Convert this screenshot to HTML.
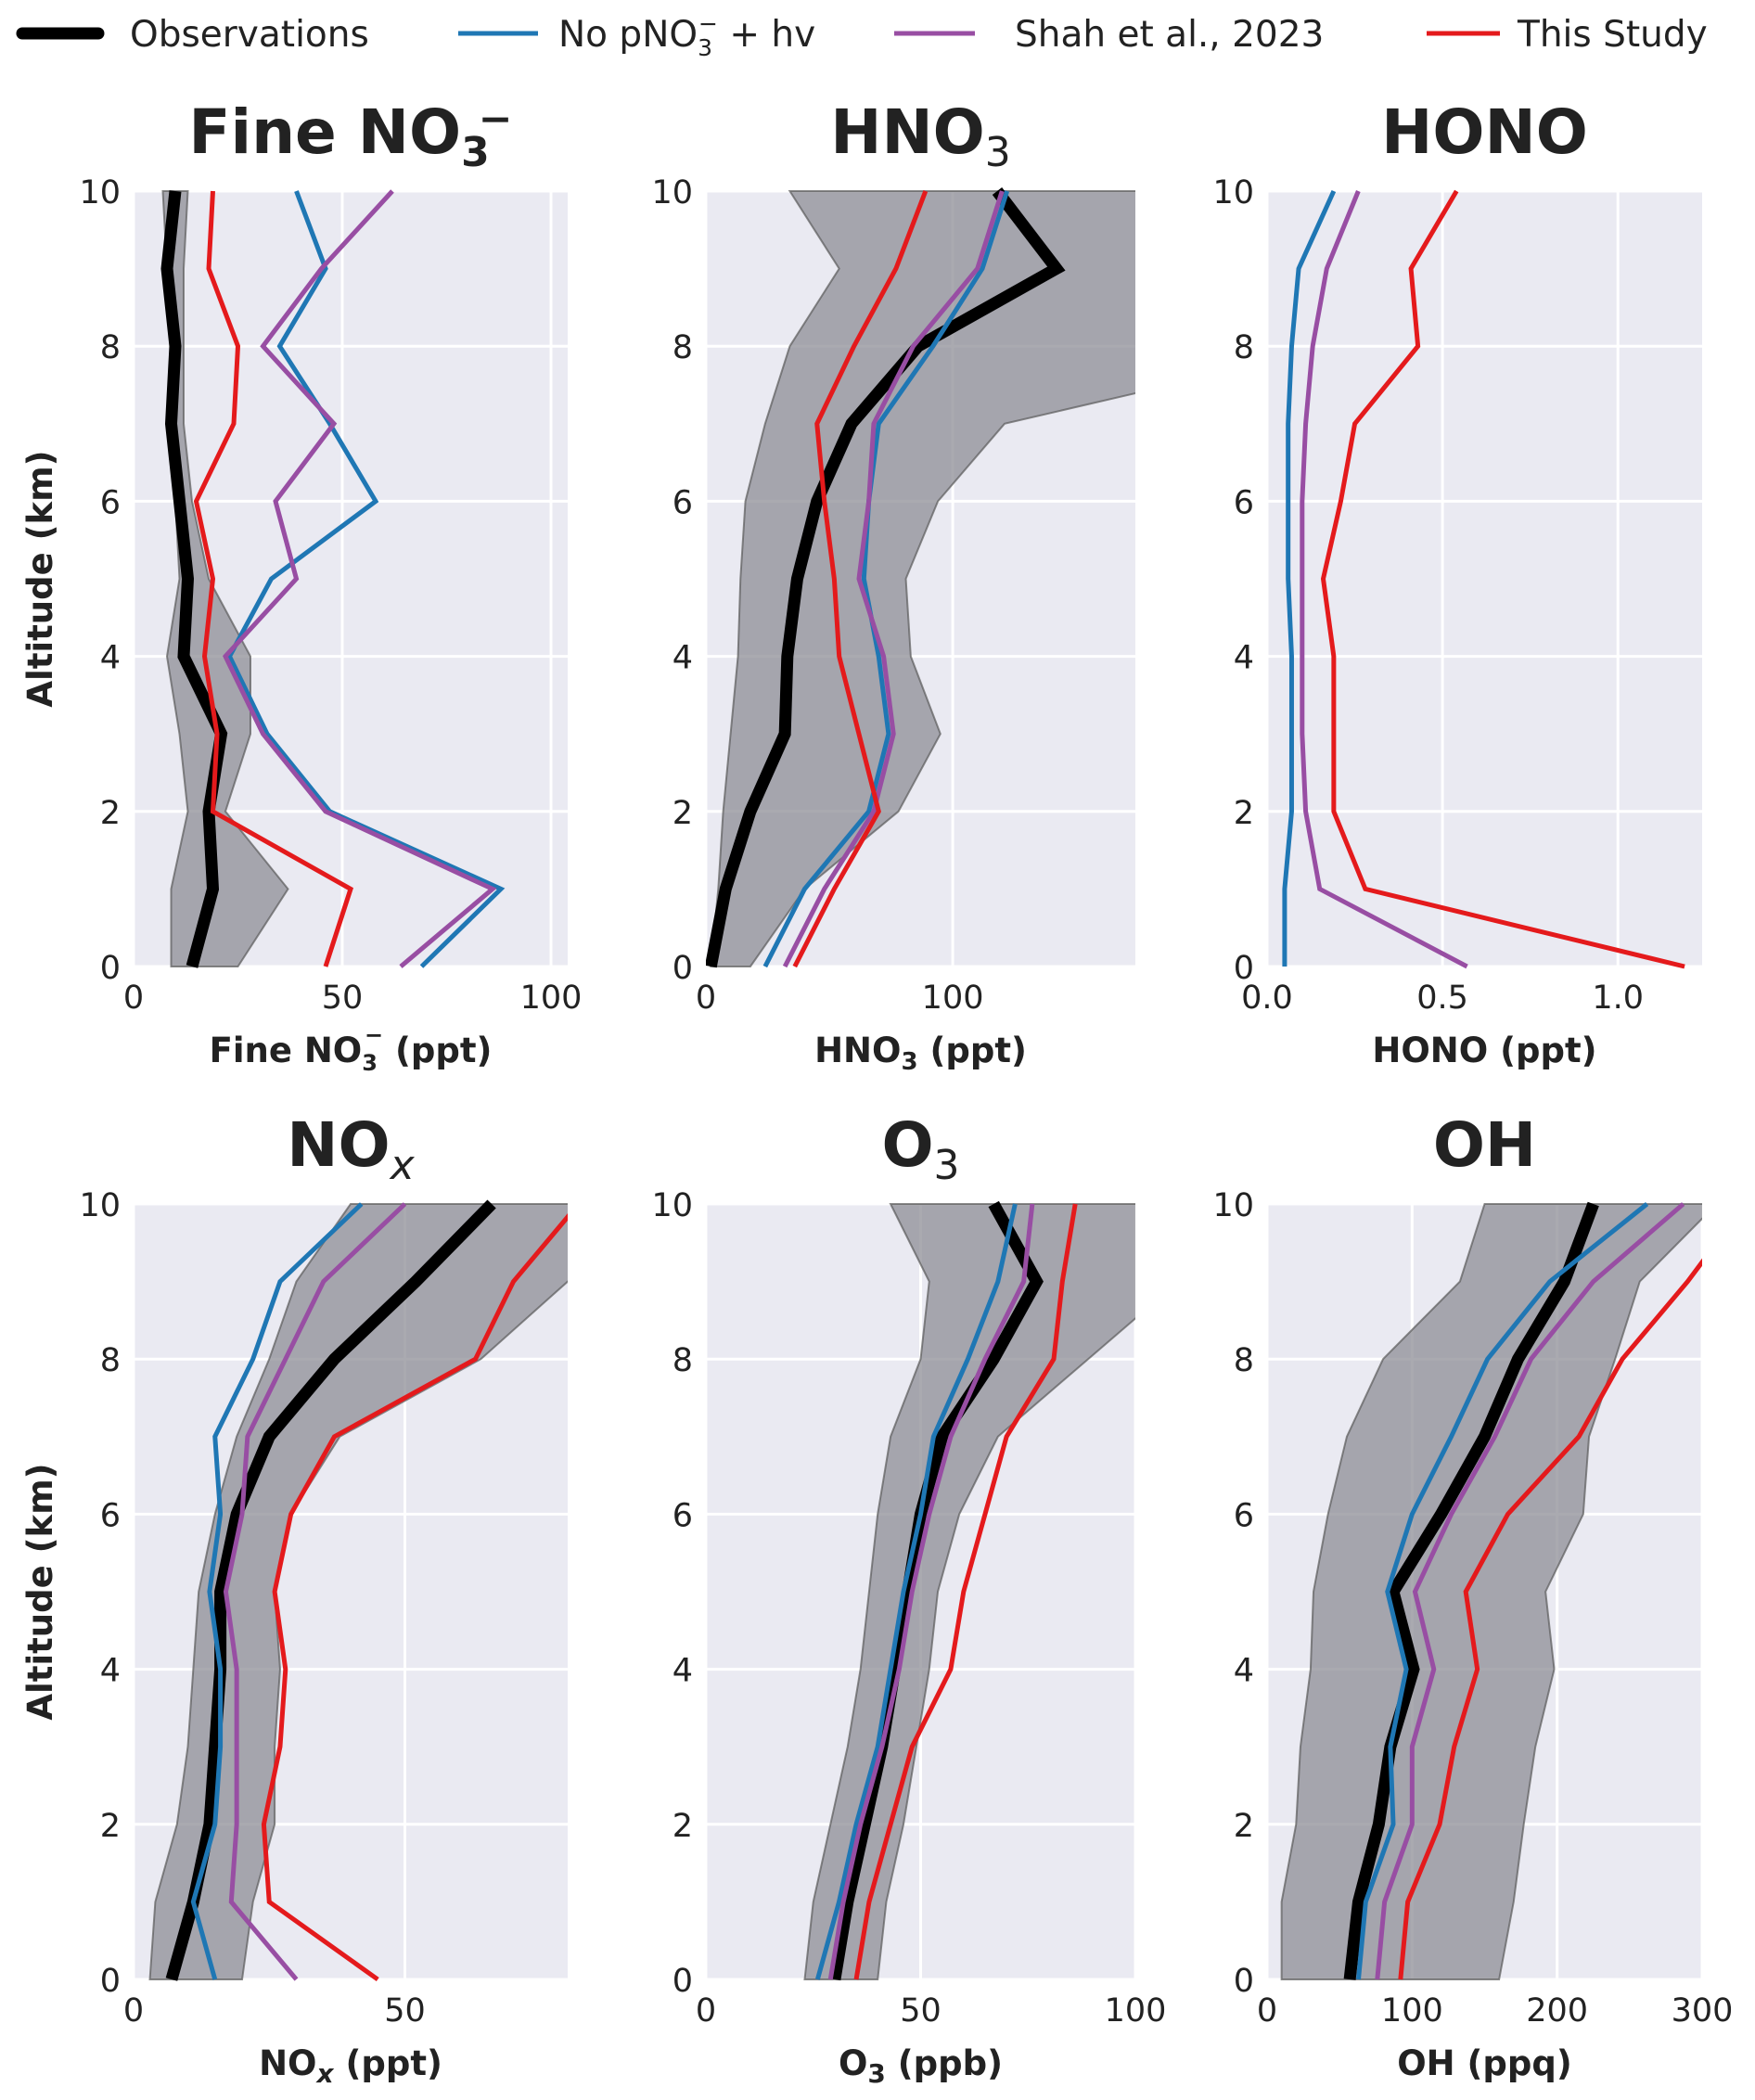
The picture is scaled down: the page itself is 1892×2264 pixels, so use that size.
<!DOCTYPE html>
<html><head><meta charset="utf-8"><style>
html,body{margin:0;padding:0;background:#fff;}
svg{display:block;font-family:"DejaVu Sans","Liberation Sans",sans-serif;}
</style></head><body>
<svg id="fig" width="1892" height="2264" viewBox="0 0 1892 2264" xmlns="http://www.w3.org/2000/svg">
<g id="legend" font-size="39" fill="#222">
 <g><line x1="24" y1="36" x2="106" y2="36" stroke="#000" stroke-width="13" stroke-linecap="round"/><text x="140" y="50">Observations</text></g>
 <g><line x1="494" y1="36" x2="580" y2="36" stroke="#1f77b4" stroke-width="5"/><text x="602" y="50">No pNO<tspan font-size="25" dy="10">3</tspan><tspan font-size="25" dy="-26" dx="-15">−</tspan><tspan dy="16"> + hv</tspan></text></g>
 <g><line x1="964" y1="36" x2="1051" y2="36" stroke="#984ea3" stroke-width="5"/><text x="1094" y="50">Shah et al., 2023</text></g>
 <g><line x1="1538" y1="36" x2="1617" y2="36" stroke="#e41a1c" stroke-width="5"/><text x="1636" y="50">This Study</text></g>
</g>
</svg>
<script>
const alt=[0,1,2,3,4,5,6,7,8,9,10];
// Fine NO3-
const p1Obs=[14,19,18,21,12,13,11,9,10,8,10];
const p1Lo=[9,9,13,11,8,11,10,8,9,8,7];
const p1Hi=[25,37,22,28,28,18,14,12,12,12,13];
const p1Blue=[69,88,47,32,23,33,58,47,35,46,39];
const p1Purple=[64,86,46,31,22,39,34,48,31,45,62];
const p1Red=[46,52,19,20,17,19,15,24,25,18,19];
// HNO3
const p2Obs=[2,8,18,32,33,37,45,59,86,142,118];
const p2Lo=[2,5,7,10,13,14,16,24,34,54,34];
const p2Hi=[18,40,78,95,83,81,94,121,256,300,300];
const p2Blue=[24,40,66,74,70,64,66,70,92,112,122];
const p2Purple=[32,48,68,76,72,62,66,68,84,110,120];
const p2Red=[36,52,70,62,54,52,48,45,60,77,89];
// HONO
const p3Blue=[0.05,0.05,0.07,0.07,0.07,0.06,0.06,0.06,0.07,0.09,0.19];
const p3Purple=[0.57,0.15,0.11,0.10,0.10,0.10,0.10,0.11,0.13,0.17,0.26];
const p3Red=[1.19,0.28,0.19,0.19,0.19,0.16,0.21,0.25,0.43,0.41,0.54];
// NOx
const p4Obs=[7,11,14,15,16,16,19,25,37,52,66];
const p4Lo=[3,4,8,10,11,12,15,19,25,30,40];
const p4Hi=[20,22,26,26,27,26,29,38,64,80,95];
const p4Blue=[15,11,15,16,16,14,16,15,22,27,42];
const p4Purple=[30,18,19,19,19,17,20,21,28,35,50];
const p4Red=[45,25,24,27,28,26,29,37,63,70,82];
// O3
const p5Obs=[30,33,37,41,44,47,50,55,67,77,67];
const p5Lo=[23,25,29,33,36,38,40,43,50,52,43];
const p5Hi=[40,42,46,49,52,54,59,68,89,110,110];
const p5Blue=[26,31,35,40,43,46,50,53,61,68,72];
const p5Purple=[29,32,36,41,45,48,52,57,65,74,76];
const p5Red=[35,38,43,48,57,60,65,70,81,83,86];
// OH
const p6Obs=[57,63,77,85,101,87,120,150,173,205,225];
const p6Lo=[10,10,20,23,30,32,42,55,80,133,150];
const p6Hi=[160,170,177,185,198,192,218,222,240,257,310];
const p6Blue=[63,68,87,85,96,83,100,127,152,195,262];
const p6Purple=[76,81,100,100,115,102,127,157,182,225,287];
const p6Red=[92,97,119,129,145,137,166,215,245,290,330];

const NS="http://www.w3.org/2000/svg";
const svg=document.getElementById('fig');
function el(tag,attrs,parent){const e=document.createElementNS(NS,tag);for(const k in attrs)e.setAttribute(k,attrs[k]);(parent||svg).appendChild(e);return e;}

const panels=[
 {key:'fine-no3',x0:144,x1:612,y0:206,y1:1042,xmax:104,xt:[0,50,100],xtl:['0','50','100'],title:'fine',xl:'fine',obs:p1Obs,lo:p1Lo,hi:p1Hi,blue:p1Blue,purple:p1Purple,red:p1Red,ylab:true},
 {key:'hno3',x0:761,x1:1224,y0:206,y1:1042,xmax:174,xt:[0,100],xtl:['0','100'],title:'hno3',xl:'hno3',obs:p2Obs,lo:p2Lo,hi:p2Hi,blue:p2Blue,purple:p2Purple,red:p2Red},
 {key:'hono',x0:1366,x1:1835,y0:206,y1:1042,xmax:1.24,xt:[0,0.5,1.0],xtl:['0.0','0.5','1.0'],title:'hono',xl:'hono',blue:p3Blue,purple:p3Purple,red:p3Red},
 {key:'nox',x0:144,x1:612,y0:1298,y1:2134,xmax:80,xt:[0,50],xtl:['0','50'],title:'nox',xl:'nox',obs:p4Obs,lo:p4Lo,hi:p4Hi,blue:p4Blue,purple:p4Purple,red:p4Red,ylab:true},
 {key:'o3',x0:761,x1:1224,y0:1298,y1:2134,xmax:100,xt:[0,50,100],xtl:['0','50','100'],title:'o3',xl:'o3',obs:p5Obs,lo:p5Lo,hi:p5Hi,blue:p5Blue,purple:p5Purple,red:p5Red},
 {key:'oh',x0:1366,x1:1835,y0:1298,y1:2134,xmax:300,xt:[0,100,200,300],xtl:['0','100','200','300'],title:'oh',xl:'oh',obs:p6Obs,lo:p6Lo,hi:p6Hi,blue:p6Blue,purple:p6Purple,red:p6Red}
];

function titleText(t,g,x,y){
 const tx=el('text',{x:x,y:y,'text-anchor':'middle','font-size':66,'font-weight':'bold',fill:'#222'},g);
 const parts={fine:[['Fine NO',0,66],['3',14,44],['−',-36,44,-12]],hno3:[['HNO',0,66],['3',14,44,0,'','normal']],hono:[['HONO',0,66]],nox:[['NO',0,66],['x',14,44,0,'italic','normal']],o3:[['O',0,66],['3',14,44,0,'','normal']],oh:[['OH',0,66]]}[t];
 parts.forEach(p=>{const s=el('tspan',{'font-size':p[2]},tx);s.textContent=p[0];if(p[1]!==0)s.setAttribute('dy',p[1]);if(p[3])s.setAttribute('dx',p[3]);if(p[4])s.setAttribute('font-style',p[4]);if(p[5])s.setAttribute('font-weight',p[5]);});
 return tx;
}
function xLabel(t,g,x,y){
 const tx=el('text',{x:x,y:y,'text-anchor':'middle','font-size':37,'font-weight':'bold',fill:'#222'},g);
 const parts={fine:[['Fine NO',0],['3',9,24],['−',-30,24,-14],['  (ppt)',21]],hno3:[['HNO',0],['3',8,26],[' (ppt)',-8]],hono:[['HONO (ppt)',0]],nox:[['NO',0],['x',8,28,0,'italic'],[' (ppt)',-8]],o3:[['O',0],['3',8,28],[' (ppb)',-8]],oh:[['OH (ppq)',0]]}[t];
 parts.forEach(p=>{const s=el('tspan',{},tx);s.textContent=p[0];if(p[1])s.setAttribute('dy',p[1]);if(p[2])s.setAttribute('font-size',p[2]);if(p[3])s.setAttribute('dx',p[3]);if(p[4])s.setAttribute('font-style',p[4]);});
}

panels.forEach((P,i)=>{
 const g=el('g',{});
 
 
 const sx=v=>P.x0+(P.x1-P.x0)*v/P.xmax;
 const sy=a=>P.y1-(P.y1-P.y0)*a/10;
 const bg=el('rect',{x:P.x0,y:P.y0,width:P.x1-P.x0,height:P.y1-P.y0,fill:'#eaeaf2'},g);
 
 
 const clipId='clip'+i;
 const cp=el('clipPath',{id:clipId},g);
 el('rect',{x:P.x0,y:P.y0-8,width:P.x1-P.x0,height:P.y1-P.y0+16},cp);
 [0,2,4,6,8,10].forEach(a=>{el('line',{x1:P.x0,x2:P.x1,y1:sy(a),y2:sy(a),stroke:'#fff','stroke-width':3},g);
  const t=el('text',{x:P.x0-14,y:sy(a)+13,'text-anchor':'end','font-size':35,fill:'#222'},g);t.textContent=a;
  
  });
 P.xt.forEach((v,j)=>{el('line',{x1:sx(v),x2:sx(v),y1:P.y0,y2:P.y1,stroke:'#fff','stroke-width':3},g);
  const t=el('text',{x:sx(v),y:P.y1+45,'text-anchor':'middle','font-size':35,fill:'#222'},g);t.textContent=P.xtl[j];
  
  });
 const dg=el('g',{'clip-path':'url(#'+clipId+')'},g);
 if(P.lo){
  let pts=P.hi.map((v,k)=>sx(v)+','+sy(alt[k]));
  pts=pts.concat(P.lo.map((v,k)=>sx(v)+','+sy(alt[k])).reverse());
  const band=el('polygon',{points:pts.join(' '),fill:'#8e8e95','fill-opacity':0.75,stroke:'#5a5a5a','stroke-width':2,'stroke-opacity':0.7},dg);
  
  
 }
 const series=[['blue','#1f77b4',P.blue],['purple','#984ea3',P.purple],['red','#e41a1c',P.red]];
 if(P.obs){const l=el('polyline',{points:P.obs.map((v,k)=>sx(v)+','+sy(alt[k])).join(' '),fill:'none',stroke:'#000','stroke-width':13,'stroke-linejoin':'miter'},dg);
  
  }
 series.forEach(s=>{const l=el('polyline',{points:s[2].map((v,k)=>sx(v)+','+sy(alt[k])).join(' '),fill:'none',stroke:s[1],'stroke-width':5},dg);
  
  });
 const tt=titleText(P.title,g,(P.x0+P.x1)/2,P.y0-41);
 
 
 xLabel(P.xl,g,(P.x0+P.x1)/2,P.y1+103);
 if(P.ylab){const cy=(P.y0+P.y1)/2;const t=el('text',{x:0,y:0,transform:'translate(56,'+cy+') rotate(-90)','text-anchor':'middle','font-size':37,'font-weight':'bold',fill:'#222'},g);t.textContent='Altitude (km)';
  
  }
});
</script>
</body></html>
